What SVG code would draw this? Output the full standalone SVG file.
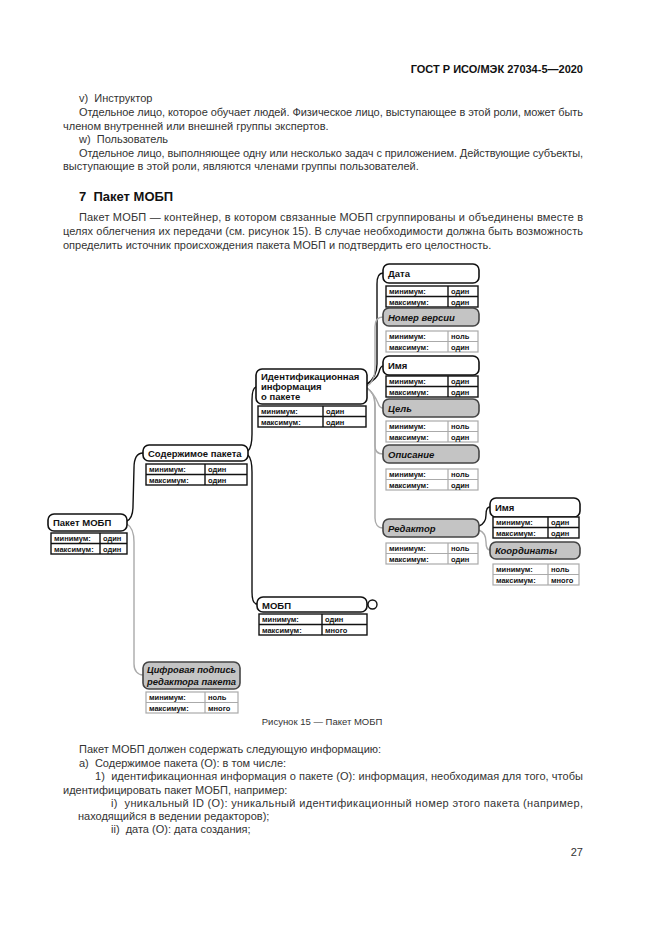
<svg xmlns="http://www.w3.org/2000/svg" width="661" height="935" viewBox="0 0 661 935">
<style>
text{font-family:"Liberation Sans",Arial,sans-serif}
.b{font-size:11px;fill:#333}
.h{font-size:11px;font-weight:bold;fill:#111}
.sec{font-size:13px;font-weight:bold;fill:#111}
.cap{font-size:9.5px;fill:#333}
.tt{font-size:9.5px;font-weight:bold;fill:#111}
.ti{font-size:9.5px;font-weight:bold;font-style:italic;fill:#111}
.tc{font-size:7.5px;font-weight:bold;fill:#111}
.tw{fill:#fff;stroke:#111;stroke-width:1.6}
.tg{fill:#c4c4c4;stroke:#444;stroke-width:1.6}
.kb{fill:#fff;stroke:#111;stroke-width:1.4}
.kg{fill:#fff;stroke:#aaa;stroke-width:1.2}
.cb{fill:none;stroke:#111;stroke-width:1.4}
.cg{fill:none;stroke:#aaa;stroke-width:1.4}
</style>
<rect width="661" height="935" fill="#fff"/>

<text class="h" x="583" y="73" text-anchor="end">ГОСТ Р ИСО/МЭК 27034-5—2020</text>
<text class="b" x="79" y="102" xml:space="preserve">v)  Инструктор</text>
<text class="b" x="79" y="116" textLength="504" lengthAdjust="spacing">Отдельное лицо, которое обучает людей. Физическое лицо, выступающее в этой роли, может быть</text>
<text class="b" x="63" y="130">членом внутренней или внешней группы экспертов.</text>
<text class="b" x="79" y="143" xml:space="preserve">w)  Пользователь</text>
<text class="b" x="79" y="157" textLength="504" lengthAdjust="spacing">Отдельное лицо, выполняющее одну или несколько задач с приложением. Действующие субъекты,</text>
<text class="b" x="63" y="170">выступающие в этой роли, являются членами группы пользователей.</text>
<text class="sec" x="79" y="201" xml:space="preserve">7  Пакет МОБП</text>
<text class="b" x="79" y="221" textLength="504" lengthAdjust="spacing">Пакет МОБП — контейнер, в котором связанные МОБП сгруппированы и объединены вместе в</text>
<text class="b" x="63" y="235" textLength="520" lengthAdjust="spacing">целях облегчения их передачи (см. рисунок 15). В случае необходимости должна быть возможность</text>
<text class="b" x="63" y="249">определить источник происхождения пакета МОБП и подтвердить его целостность.</text>

<g id="connectors">
<path class="cb" d="M127,521 C131,519 133,514 133,506 L134,468 C134,458 137,453 143,453"/>
<path class="cg" d="M127,524 C132,527 134,533 134,542 L134,664 C134,671 138,675 143,675"/>
<path class="cb" d="M248,451 C251,448 252,442 252,434 L252,400 C252,392 253,388 256,387"/>
<path class="cb" d="M248,455 C251,458 252,464 252,472 L252,592 C252,600 254,604 257,604"/>
<path class="cb" d="M367,384 C373,380 377,374 377,364 L377,284 C377,277 379,273 383,273"/>
<path class="cb" d="M367,384 C373,381 378,376 379,372 C380,368 381,366 383,366"/>
<path class="cg" d="M367,386 C372,383 375,376 375,368 L375,327 C375,320 378,317 383,317"/>
<path class="cg" d="M367,388 C372,392 376,398 378,403 C379,406 381,408 383,408"/>
<path class="cg" d="M367,388 C372,391 375,397 375,405 L375,446 C375,452 378,454 383,454"/>
<path class="cg" d="M367,388 C372,391 375,397 375,405 L375,518 C375,524 378,528 383,528"/>
<path class="cb" d="M479,526 C484,524 486,520 486,515 C486,510 487,507 490,507"/>
<path class="cg" d="M479,530 C484,532 486,537 486,542 C486,547 487,550 490,550"/>
</g>

<g id="n-paket">
<rect class="tw" x="48" y="514" width="79" height="17" rx="6"/>
<text class="tt" x="53" y="526">Пакет МОБП</text>
<rect class="kb" x="51" y="533" width="76" height="21"/>
<line class="kb" x1="51" y1="543.5" x2="127" y2="543.5"/>
<line class="kb" x1="100" y1="533" x2="100" y2="554"/>
<text class="tc" x="54" y="541">минимум:</text><text class="tc" x="103" y="541">один</text>
<text class="tc" x="54" y="551.5">максимум:</text><text class="tc" x="103" y="551.5">один</text>
</g>

<g id="n-content">
<rect class="tw" x="143" y="445" width="105" height="16" rx="6"/>
<text class="tt" x="148" y="457">Содержимое пакета</text>
<rect class="kb" x="146" y="464" width="101" height="21"/>
<line class="kb" x1="146" y1="474.5" x2="247" y2="474.5"/>
<line class="kb" x1="205" y1="464" x2="205" y2="485"/>
<text class="tc" x="149" y="472">минимум:</text><text class="tc" x="208" y="472">один</text>
<text class="tc" x="149" y="482.5">максимум:</text><text class="tc" x="208" y="482.5">один</text>
</g>

<g id="n-ident">
<rect class="tw" x="256" y="369" width="111" height="35" rx="6"/>
<text class="tt" x="261" y="380">Идентификационная</text>
<text class="tt" x="261" y="390">информация</text>
<text class="tt" x="261" y="400">о пакете</text>
<rect class="kb" x="258" y="406" width="108" height="21"/>
<line class="kb" x1="258" y1="416.5" x2="366" y2="416.5"/>
<line class="kb" x1="323" y1="406" x2="323" y2="427"/>
<text class="tc" x="261" y="414">минимум:</text><text class="tc" x="326" y="414">один</text>
<text class="tc" x="261" y="424.5">максимум:</text><text class="tc" x="326" y="424.5">один</text>
</g>

<g id="n-mobp">
<rect class="tw" x="257" y="597" width="110" height="15" rx="6"/>
<text class="tt" x="262" y="608.5">МОБП</text>
<line class="cb" x1="367" y1="604.5" x2="368" y2="604.5"/>
<circle cx="372.5" cy="604.5" r="4.5" fill="#fff" stroke="#111" stroke-width="1.4"/>
<rect class="kb" x="259" y="614" width="108" height="21"/>
<line class="kb" x1="259" y1="624.5" x2="367" y2="624.5"/>
<line class="kb" x1="322" y1="614" x2="322" y2="635"/>
<text class="tc" x="262" y="622">минимум:</text><text class="tc" x="325" y="622">один</text>
<text class="tc" x="262" y="632.5">максимум:</text><text class="tc" x="325" y="632.5">много</text>
</g>

<g id="n-signature">
<rect class="tg" x="143" y="662" width="97" height="27" rx="6"/>
<text class="ti" x="147" y="673" textLength="89" lengthAdjust="spacingAndGlyphs">Цифровая подпись</text>
<text class="ti" x="147" y="685" textLength="89" lengthAdjust="spacingAndGlyphs">редактора пакета</text>
<rect class="kg" x="146" y="692" width="92" height="21"/>
<line class="kg" x1="146" y1="702.5" x2="238" y2="702.5"/>
<line class="kg" x1="205" y1="692" x2="205" y2="713"/>
<text class="tc" x="149" y="700">минимум:</text><text class="tc" x="208" y="700">ноль</text>
<text class="tc" x="149" y="710.5">максимум:</text><text class="tc" x="208" y="710.5">много</text>
</g>

<g id="n-date">
<rect class="tw" x="383" y="264" width="96" height="19" rx="6"/>
<text class="tt" x="388" y="277">Дата</text>
<rect class="kb" x="386" y="286" width="92" height="21"/>
<line class="kb" x1="386" y1="296.5" x2="478" y2="296.5"/>
<line class="kb" x1="448" y1="286" x2="448" y2="307"/>
<text class="tc" x="389" y="294">минимум:</text><text class="tc" x="451" y="294">один</text>
<text class="tc" x="389" y="304.5">максимум:</text><text class="tc" x="451" y="304.5">один</text>
</g>

<g id="n-version">
<rect class="tg" x="383" y="308" width="96" height="18" rx="6"/>
<text class="ti" x="388" y="320.5">Номер версии</text>
<rect class="kg" x="386" y="331" width="92" height="21"/>
<line class="kg" x1="386" y1="341.5" x2="478" y2="341.5"/>
<line class="kg" x1="448" y1="331" x2="448" y2="352"/>
<text class="tc" x="389" y="339">минимум:</text><text class="tc" x="451" y="339">ноль</text>
<text class="tc" x="389" y="349.5">максимум:</text><text class="tc" x="451" y="349.5">один</text>
</g>

<g id="n-name">
<rect class="tw" x="383" y="356" width="96" height="19" rx="6"/>
<text class="tt" x="388" y="369">Имя</text>
<rect class="kb" x="386" y="376" width="92" height="21"/>
<line class="kb" x1="386" y1="386.5" x2="478" y2="386.5"/>
<line class="kb" x1="448" y1="376" x2="448" y2="397"/>
<text class="tc" x="389" y="384">минимум:</text><text class="tc" x="451" y="384">один</text>
<text class="tc" x="389" y="394.5">максимум:</text><text class="tc" x="451" y="394.5">один</text>
</g>

<g id="n-goal">
<rect class="tg" x="383" y="399" width="96" height="18" rx="6"/>
<text class="ti" x="388" y="411.5">Цель</text>
<rect class="kg" x="386" y="421" width="92" height="21"/>
<line class="kg" x1="386" y1="431.5" x2="478" y2="431.5"/>
<line class="kg" x1="448" y1="421" x2="448" y2="442"/>
<text class="tc" x="389" y="429">минимум:</text><text class="tc" x="451" y="429">ноль</text>
<text class="tc" x="389" y="439.5">максимум:</text><text class="tc" x="451" y="439.5">один</text>
</g>

<g id="n-desc">
<rect class="tg" x="383" y="445" width="96" height="18" rx="6"/>
<text class="ti" x="388" y="457.5">Описание</text>
<rect class="kg" x="386" y="469" width="92" height="21"/>
<line class="kg" x1="386" y1="479.5" x2="478" y2="479.5"/>
<line class="kg" x1="448" y1="469" x2="448" y2="490"/>
<text class="tc" x="389" y="477">минимум:</text><text class="tc" x="451" y="477">ноль</text>
<text class="tc" x="389" y="487.5">максимум:</text><text class="tc" x="451" y="487.5">один</text>
</g>

<g id="n-editor">
<rect class="tg" x="383" y="519" width="96" height="18" rx="6"/>
<text class="ti" x="388" y="531.5">Редактор</text>
<rect class="kg" x="386" y="543" width="92" height="21"/>
<line class="kg" x1="386" y1="553.5" x2="478" y2="553.5"/>
<line class="kg" x1="448" y1="543" x2="448" y2="564"/>
<text class="tc" x="389" y="551">минимум:</text><text class="tc" x="451" y="551">ноль</text>
<text class="tc" x="389" y="561.5">максимум:</text><text class="tc" x="451" y="561.5">один</text>
</g>

<g id="n-editor-name">
<rect class="tw" x="490" y="498" width="90" height="19" rx="6"/>
<text class="tt" x="495" y="511">Имя</text>
<rect class="kb" x="493" y="517" width="86" height="21"/>
<line class="kb" x1="493" y1="527.5" x2="579" y2="527.5"/>
<line class="kb" x1="548" y1="517" x2="548" y2="538"/>
<text class="tc" x="496" y="525">минимум:</text><text class="tc" x="551" y="525">один</text>
<text class="tc" x="496" y="535.5">максимум:</text><text class="tc" x="551" y="535.5">один</text>
</g>

<g id="n-coords">
<rect class="tg" x="490" y="542" width="90" height="17" rx="6"/>
<text class="ti" x="495" y="554">Координаты</text>
<rect class="kg" x="493" y="564" width="86" height="21"/>
<line class="kg" x1="493" y1="574.5" x2="579" y2="574.5"/>
<line class="kg" x1="548" y1="564" x2="548" y2="585"/>
<text class="tc" x="496" y="572">минимум:</text><text class="tc" x="551" y="572">ноль</text>
<text class="tc" x="496" y="582.5">максимум:</text><text class="tc" x="551" y="582.5">много</text>
</g>

<text class="cap" x="322" y="725" text-anchor="middle">Рисунок 15 — Пакет МОБП</text>
<text class="b" x="79" y="753">Пакет МОБП должен содержать следующую информацию:</text>
<text class="b" x="79" y="767" xml:space="preserve">а)  Содержимое пакета (О): в том числе:</text>
<text class="b" x="95" y="780" textLength="488" lengthAdjust="spacing" xml:space="preserve">1)  идентификационная информация о пакете (О): информация, необходимая для того, чтобы</text>
<text class="b" x="63" y="794">идентифицировать пакет МОБП, например:</text>
<text class="b" x="111" y="807" textLength="472" lengthAdjust="spacing" xml:space="preserve">i)  уникальный ID (O): уникальный идентификационный номер этого пакета (например,</text>
<text class="b" x="78" y="820">находящийся в ведении редакторов);</text>
<text class="b" x="111" y="833" xml:space="preserve">ii)  дата (О): дата создания;</text>
<text class="b" x="583" y="856" text-anchor="end">27</text>
</svg>
